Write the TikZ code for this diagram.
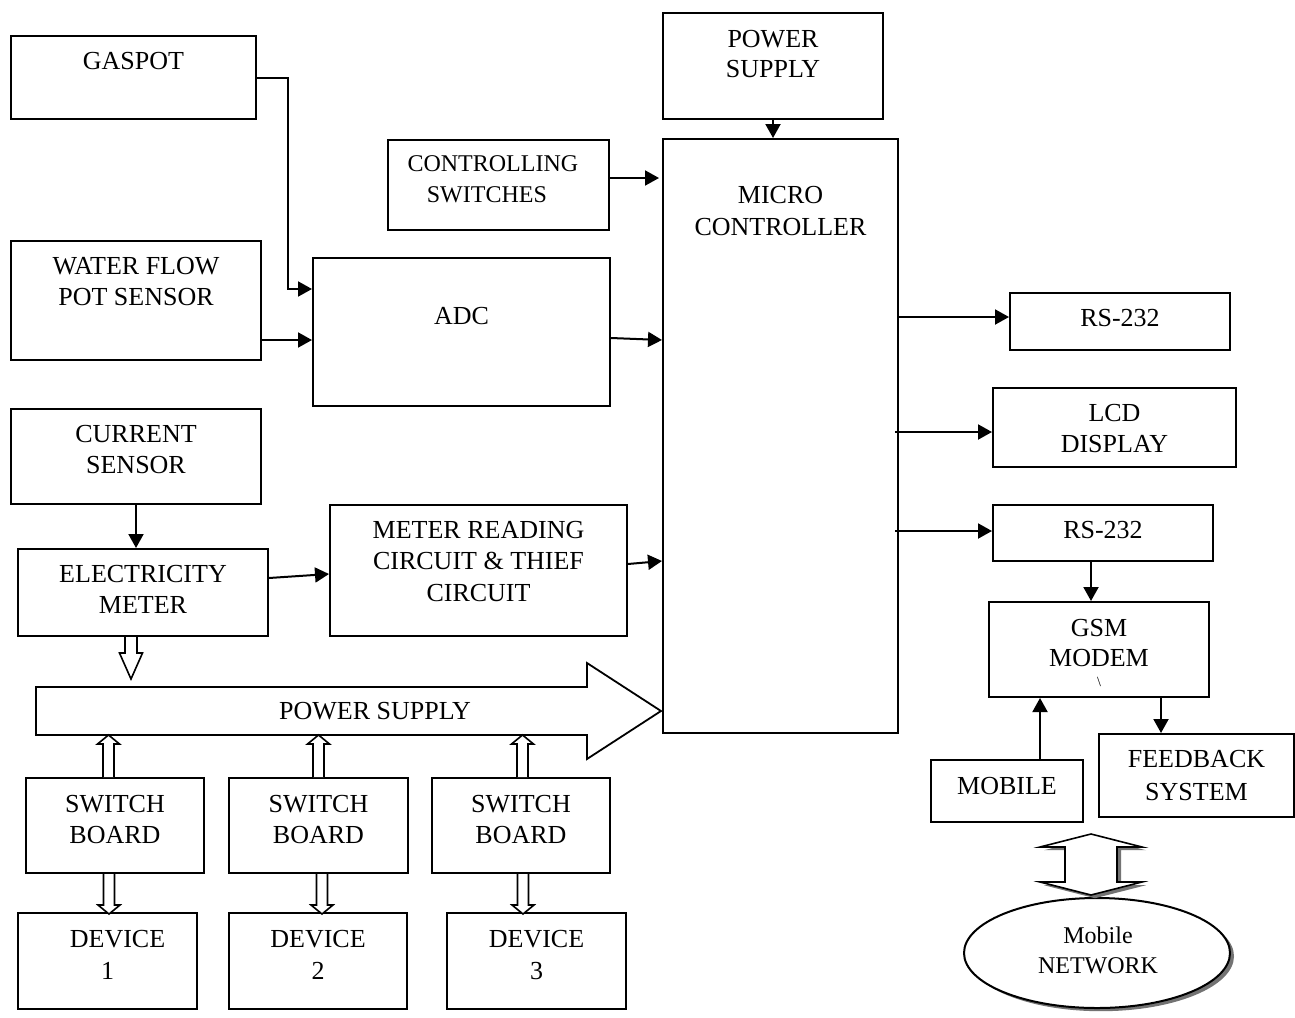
\documentclass[tikz,border=0pt]{standalone}
\usepackage{fontspec}
\setmainfont{Liberation Serif}
\usetikzlibrary{arrows.meta,calc,fit,shapes.geometric,shadows}

\begin{document}
\begin{tikzpicture}[x=0.5pt,y=-0.5pt,line join=miter,
		box/.style={draw,line width=1pt,inner sep=0pt},
		lbl/.style={inner sep=0pt,align=center,font=\fontsize{13pt}{15.5pt}\selectfont},
		arr/.style={line width=1pt,-{Triangle[length=7pt,width=7.5pt]}},
		hollow/.style={draw,line width=0.8pt,fill=white},
		shade/.style={drop shadow={shadow xshift=2pt,shadow yshift=-1.6pt,opacity=1,fill=black!55}}]
		\useasboundingbox (0,0) rectangle (1295,1017);
		
		% inputs
		\node[box,fit={(11,36) (256,119)}] (gaspot) {};
		\node[lbl,below=8.2pt] (gaspot-l) at (gaspot.north) {GASPOT};
		\node[box,fit={(11,241) (261,360)}] (water) {};
		\node[lbl,below=8.2pt] (water-l) at (water.north) {WATER FLOW\\POT SENSOR};
		\node[box,fit={(11,409) (261,504)}] (current) {};
		\node[lbl,below=8.2pt] (current-l) at (current.north) {CURRENT\\SENSOR};
		\node[box,fit={(18,549) (268,636)}] (elec) {};
		\node[lbl,below=8.2pt] (elec-l) at (elec.north) {ELECTRICITY\\METER};
		\node[box,fit={(388,140) (609,230)}] (ctrl) {};
		\node[lbl,below=8pt,xshift=-2.8pt,font=\fontsize{12pt}{15.5pt}\selectfont] (ctrl-l) at (ctrl.north) {CONTROLLING\\SWITCHES\hspace*{6pt}};
		\node[box,fit={(313,258) (610,406)}] (adc) {};
		\node[lbl,below=24.7pt] (adc-l) at (adc.north) {ADC};
		\node[box,fit={(330,505) (627,636)}] (meter) {};
		\node[lbl,below=8.2pt,font=\fontsize{13pt}{15.75pt}\selectfont] (meter-l) at (meter.north) {METER READING\\CIRCUIT \& THIEF\\CIRCUIT};
		
		% controller
		\node[box,fit={(663,13) (883,119)}] (psup) {};
		\node[lbl,below=8.7pt,font=\fontsize{13pt}{15pt}\selectfont] (psup-l) at (psup.north) {POWER\\SUPPLY};
		\node[box,fit={(663,139) (898,733)}] (mc) {};
		\node[lbl,below=23.7pt,font=\fontsize{13pt}{16pt}\selectfont] (mc-l) at (mc.north) {MICRO\\CONTROLLER};
		
		% outputs
		\node[box,fit={(1010,293) (1230,350)}] (rs1) {};
		\node[lbl,below=8.2pt] (rs1-l) at (rs1.north) {RS-232};
		\node[box,fit={(993,388) (1236,467)}] (lcd) {};
		\node[lbl,below=8.2pt] (lcd-l) at (lcd.north) {LCD\\DISPLAY};
		\node[box,fit={(993,505) (1213,561)}] (rs2) {};
		\node[lbl,below=8.2pt] (rs2-l) at (rs2.north) {RS-232};
		\node[box,fit={(989,602) (1209,697)}] (gsm) {};
		\node[lbl,below=8.7pt,font=\fontsize{13pt}{15pt}\selectfont] (gsm-l) at (gsm.north) {GSM\\MODEM};
		\node[inner sep=0pt,font=\fontsize{7pt}{8pt}\selectfont] (gsm-m) at ($(gsm.north)+(0,81)$) {\textbackslash};
		\node[box,fit={(931,760) (1083,822)}] (mobile) {};
		\node[lbl,below=8.7pt] (mobile-l) at (mobile.north) {MOBILE};
		\node[box,fit={(1099,734) (1294,817)}] (fb) {};
		\node[lbl,below=8.2pt,font=\fontsize{13pt}{16.5pt}\selectfont] (fb-l) at (fb.north) {FEEDBACK\\SYSTEM};
		\node[ellipse,draw,line width=1pt,fill=white,shade,minimum width=133pt,minimum height=55pt,inner sep=0pt] (net) at (1097,953) {};
		\node[lbl,font=\fontsize{12pt}{15pt}\selectfont] (net-l) at (1098,950) {Mobile\\NETWORK};
		
		% power bus
		\draw[hollow,line width=0.9pt] (36,687) -- (587,687) -- (587,663) -- (661,711) -- (587,759) -- (587,735) -- (36,735) -- cycle;
		\node[fit={(36,687) (587,735)},inner sep=0pt] (pwrbus) {};
		\node[lbl] (pwrbus-l) at (375,711) {POWER SUPPLY};
		
		% switch boards and devices
		\foreach \n/\xa/\xb/\xc/\xd/\u/\p/\s in {1/26/204/18/197/-6.5/-6/10pt, 2/229/408/229/407/0/3.5/0pt, 3/432/610/447/626/1.5/2/0pt}
		{
			\node[box,fit={(\xa,778) (\xb,873)}] (sb\n) {};
			\node[lbl,below=8.7pt] (sb\n-l) at (sb\n.north) {SWITCH\\BOARD};
			\node[box,fit={(\xc,913) (\xd,1009)}] (dev\n) {};
			\node[lbl,below=8.7pt,font=\fontsize{13pt}{16pt}\selectfont] (dev\n-l) at (dev\n.north) {\hspace*{\s}DEVICE\\\n};
			\draw[hollow] ($(sb\n.north)+(\u,0)$) ++(-5.5,0) -- ++(0,-33) -- ++(-5.5,0) -- ++(11,-9) -- ++(11,9) -- ++(-5.5,0) -- ++(0,33);
			\draw[hollow] ($(sb\n.south)+(\p,0)$) ++(-5.5,0) -- ++(0,31) -- ++(-5.5,0) -- ++(11,9) -- ++(11,-9) -- ++(-5.5,0) -- ++(0,-31);
		}
		\draw[hollow] ($(elec.south)+(-12,0)$) ++(-6,0) -- ++(0,16) -- ++(-5.5,0) -- ++(11.5,26) -- ++(11.5,-26) -- ++(-5.5,0) -- ++(0,-16);
		
		% mobile link
		\coordinate (dtip) at ($(net.north)+(-6,-2)$);
		\draw[hollow,shade] (dtip) -- ++(-51,-13) -- ++(25,0) -- ++(0,-35) -- ++(-25,0) -- ++(51,-13)
		-- ++(51,13) -- ++(-25,0) -- ++(0,35) -- ++(25,0) -- cycle;
		
		% signal lines
		\coordinate (rs2-out) at ($(rs2.south)+(-12,0)$);
		\coordinate (mob-out) at ($(mobile.north)+(33,0)$);
		\coordinate (fb-in) at ($(fb.north)+(-35.5,0)$);
		\draw[arr] (gaspot.east) -- ++(31,0) |- ($(adc.west)+(0,-43)$);
		\draw[arr] ($(water.east)+(0,39.5)$) -- ($(adc.west)+(0,8)$);
		\draw[arr] ($(ctrl.east)+(0,-7)$) -- ($(mc.west |- ctrl.east)+(-3,-7)$);
		\draw[arr] ($(adc.east)+(0,6)$) -- ($(mc.west |- adc.east)+(0,8)$);
		\draw[arr] (current.south) -- (current.south |- elec.north);
		\draw[arr] ($(elec.east)+(0,-14.5)$) -- ($(meter.west)+(0,3.5)$);
		\draw[arr] ($(meter.east)+(0,-6.5)$) -- ($(mc.west |- meter.east)+(0,-9.5)$);
		\draw[arr] (psup.south) -- (psup.south |- mc.north);
		\draw[arr] ($(mc.east |- rs1.west)+(0,-4.5)$) -- ($(rs1.west)+(0,-4.5)$);
		\draw[arr] ($(mc.east |- lcd.west)+(-4,4.5)$) -- ($(lcd.west)+(0,4.5)$);
		\draw[arr] ($(mc.east |- rs2.west)+(-4,-2)$) -- ($(rs2.west)+(0,-2)$);
		\draw[arr] (rs2-out) -- (rs2-out |- gsm.north);
		\draw[arr] (mob-out) -- (mob-out |- gsm.south);
		\draw[arr] (fb-in |- gsm.south) -- (fb-in);
\end{tikzpicture}
\end{document}
